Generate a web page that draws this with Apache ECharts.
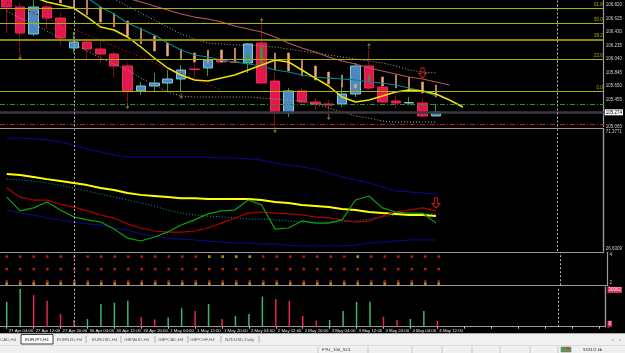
<!DOCTYPE html>
<html>
<head>
<meta charset="utf-8">
<title>EURJPY,H4</title>
<script src="https://cdn.jsdelivr.net/npm/echarts@6/dist/echarts.min.js"></script>
<style>
html, body { margin: 0; padding: 0; background: #000; }
#main { width: 625px; height: 353px; }
</style>
</head>
<body>
<div id="main"></div>
<script>
// H4 bars shown on the chart
const barTimes = [
  "27 Apr 04:00", "27 Apr 08:00", "27 Apr 12:00", "27 Apr 16:00", "27 Apr 20:00",
  "30 Apr 00:00", "30 Apr 04:00", "30 Apr 08:00", "30 Apr 12:00", "30 Apr 16:00", "30 Apr 20:00",
  "1 May 00:00", "1 May 04:00", "1 May 08:00", "1 May 12:00", "1 May 16:00", "1 May 20:00",
  "2 May 00:00", "2 May 04:00", "2 May 08:00", "2 May 12:00", "2 May 16:00", "2 May 20:00",
  "3 May 00:00", "3 May 04:00", "3 May 08:00", "3 May 12:00", "3 May 16:00", "3 May 20:00",
  "4 May 00:00", "4 May 04:00", "4 May 08:00", "4 May 12:00"
];
const futureBars = 12; // empty space right of the last bar (chart shift)

// EURJPY candles
const open = [107.008, 106.791, 106.401, 106.791, 106.632, 106.199, 106.285, 106.184, 106.112, 105.939, 105.578,
  105.650, 105.693, 105.751, 105.895, 105.910, 106.025, 105.997, 105.982, 106.271, 105.722, 105.260, 105.578,
  105.419, 105.390, 105.390, 105.534, 105.939, 105.635, 105.433, 105.404, 105.404, 105.217];
const close = [106.791, 106.415, 106.791, 106.632, 106.343, 106.285, 106.184, 106.112, 105.939, 105.578, 105.650,
  105.693, 105.751, 105.881, 105.890, 106.025, 105.997, 105.989, 106.257, 105.693, 105.260, 105.578, 105.419,
  105.390, 105.375, 105.534, 105.939, 105.621, 105.419, 105.404, 105.411, 105.217, 105.274];
const low = [106.415, 106.126, 106.372, 106.473, 106.242, 106.127, 106.025, 105.982, 105.780, 105.419, 105.520,
  105.563, 105.578, 105.563, 105.780, 105.794, 105.982, 105.982, 105.838, 105.679, 105.072, 105.202, 105.404,
  105.303, 105.260, 105.347, 105.491, 105.592, 105.404, 105.332, 105.375, 105.202, 105.217];
const high = [107.036, 106.849, 106.892, 106.849, 106.704, 106.430, 106.314, 106.314, 106.141, 105.982, 105.708,
  105.838, 105.881, 105.953, 105.997, 106.127, 106.170, 106.199, 106.271, 106.531, 105.852, 105.621, 105.621,
  105.477, 105.448, 105.664, 105.982, 106.170, 105.664, 105.520, 105.491, 105.477, 105.390];

// thin overlay candles
const thinOpen = [null, null, null, null, 107.036, 106.964, 106.921, 106.791, 106.704, 106.589, 106.488, 106.372,
  106.271, 106.184, 106.127, 106.170, 106.170, 106.199, 105.982, 105.982, 106.127, 106.127, 106.025, 105.939,
  105.852, 105.809, 105.679, 105.708, 105.780, 105.809, 105.780, 105.708, 105.664];
const thinClose = [null, null, null, null, 106.849, 106.776, 106.675, 106.574, 106.502, 106.372, 106.257, 106.155,
  106.083, 106.025, 105.997, 105.982, 105.997, 105.997, 106.127, 106.213, 105.881, 105.867, 105.794, 105.737,
  105.679, 105.635, 105.621, 105.809, 105.650, 105.621, 105.578, 105.549, 105.491];

// moving averages / bands on price
const maYellow = [null, null, 106.935, 106.863, 106.820, 106.776, 106.646, 106.502, 106.459, 106.358, 106.213,
  106.054, 105.910, 105.809, 105.737, 105.722, 105.765, 105.809, 105.881, 105.953, 106.025, 105.997, 105.881,
  105.765, 105.650, 105.491, 105.419, 105.448, 105.505, 105.563, 105.592, 105.578, 105.534, 105.448, 105.347];
const maTeal = [null, null, null, null, null, null, 106.921, 106.791, 106.690, 106.560, 106.473, 106.387, 106.271,
  106.170, 106.098, 106.069, 106.025, 105.997, 105.968, 105.939, 105.881, 105.852, 105.809, 105.780, 105.765,
  105.751, 105.737, 105.708, 105.693, 105.664, 105.621, 105.578, 105.505];
const maBrown = [null, null, null, null, null, null, null, null, null, 106.921, 106.863, 106.805, 106.748, 106.690,
  106.646, 106.618, 106.574, 106.516, 106.473, 106.430, 106.358, 106.271, 106.199, 106.141, 106.069, 106.011,
  105.968, 105.910, 105.867, 105.823, 105.780, 105.751, 105.708, 105.664];
const bandUpper = [null, null, null, null, null, null, null, 107.008, 106.906, 106.805, 106.704, 106.603, 106.502,
  106.401, 106.329, 106.271, 106.257, 106.242, 106.242, 106.228, 106.213, 106.184, 106.155, 106.127, 106.098,
  106.069, 106.040, 106.011, 105.982, 105.939, 105.881, 105.852, 105.838];
const bandLower = [106.733, 106.632, 106.545, 106.444, 106.343, 106.257, 106.155, 106.054, 105.968, 105.881,
  105.765, 105.664, 105.563, 105.505, 105.491, 105.491, 105.491, 105.491, 105.491, 105.477, 105.462, 105.448,
  105.433, 105.390, 105.332, 105.274, 105.217, 105.188, 105.144, 105.130, 105.130, 105.130, 105.130];
const trendBars = [0, 16];
const trendPrices = [106.863, 105.592];

// horizontal levels
const fibPrices = [105.577, 106.035, 106.324, 106.550, 106.772];
const fibNames = ["0.0", "23.6", "38.2", "50.0", "61.8"];
const greenLevel = 105.389;
const redLevel = 105.101;
const bidPrice = 105.274;
const separatorBars = [5, 41];

// fractals and signals
const fractalUp = [19, 27];
const fractalDown = [1, 9, 13, 20, 24];
const sellArrowPrice = [[31, 105.838]];

// TDI panel
const tdiUpper = [68.2, 68.2, 67.9, 67.5, 66.8, 65.7, 64.2, 63.1, 62.0, 61.2, 61.2, 61.2, 61.2, 61.2, 61.2, 61.2,
  60.9, 60.9, 60.5, 60.1, 59.0, 58.3, 57.6, 56.8, 55.4, 53.9, 52.8, 51.7, 50.2, 48.7, 48.4, 48.0, 47.6];
const tdiLower = [41.7, 40.6, 39.9, 38.8, 38.0, 37.3, 36.6, 36.2, 35.1, 34.4, 32.9, 32.2, 31.4, 31.0, 30.7, 30.3,
  29.9, 29.6, 29.6, 29.2, 29.2, 28.8, 28.5, 28.5, 28.5, 28.5, 28.8, 29.6, 29.9, 30.3, 30.7, 30.7, 30.7];
const tdiBase = [55.0, 54.6, 53.9, 53.1, 52.4, 51.7, 50.9, 49.8, 49.1, 48.0, 47.3, 46.9, 46.5, 46.1, 46.1, 45.8,
  45.8, 45.8, 45.8, 45.4, 44.7, 44.3, 43.6, 43.2, 42.8, 42.1, 41.7, 41.0, 40.6, 40.3, 39.9, 39.9, 39.5];
const tdiCyan = [53.1, 52.8, 52.4, 51.7, 50.9, 49.8, 48.7, 47.6, 46.5, 45.4, 44.3, 43.2, 41.7, 40.6, 39.9, 39.5,
  39.2, 38.8, 38.4, 38.4, 38.1, 37.7, 37.3, 37.3, 37.3, 37.3, 37.7, 38.4, 39.2, 39.9, 40.3, 40.3, 40.3];
const tdiSignal = [49.8, 46.5, 45.4, 45.4, 43.9, 42.8, 41.4, 39.9, 38.8, 36.6, 35.1, 34.0, 33.6, 33.6, 34.0, 35.1,
  36.9, 38.8, 40.6, 41.0, 40.6, 40.3, 39.9, 39.2, 38.8, 38.1, 37.3, 37.7, 39.5, 41.0, 41.7, 42.5, 41.4];
const tdiRsi = [46.5, 41.4, 42.5, 44.7, 41.7, 39.2, 38.1, 37.3, 34.7, 31.4, 30.3, 31.8, 33.6, 36.2, 38.1, 40.3,
  41.4, 41.7, 45.4, 43.6, 34.7, 35.1, 37.7, 36.9, 36.9, 38.1, 45.4, 46.9, 42.5, 41.0, 40.6, 40.6, 36.9];
const tdiMin = 26.6309;
const tdiMax = 71.3771;
const sellArrowTdi = [[32, 44.3]];

// dots panel: 1 = yellow dot in top row
const dotsTopYellow = [0, 0, 0, 0, 0, 0, 0, 0, 0, 0, 0, 0, 0, 0, 0, 1, 1, 1, 1, 0, 0, 0, 0, 0, 0, 0, 1, 0, 0, 0, 0, 0, 0];
const dotRows = [3.88, 2.97, 2.07, 1.92];

// volume panel
const volume = [12600, 19000, 16000, 13100, 6400, 3400, 3900, 11500, 12100, 13100, 4700, 3700, 4700, 9300, 7900,
  11500, 3900, 5400, 6400, 15200, 14000, 13000, 5400, 3000, 3400, 7900, 12500, 12600, 5000, 3400, 3900, 7900, 2900];
const volumeUp = [1, 1, 0, 0, 0, 0, 1, 1, 1, 1, 0, 0, 1, 1, 0, 1, 0, 1, 1, 1, 0, 0, 0, 0, 1, 1, 1, 1, 0, 0, 1, 1, 0];
const volumeMax = 20062;

const tabs = ["CAD,H4", "EURJPY,H4", "EURNZD,H4", "EURUSD,H4", "GBPAUD,H4", "GBPCAD,H4", "GBPCHF,H4", "NZDUSD,Daily"];

// ---------------------------------------------------------------
const categories = barTimes.concat(Array.from({ length: futureBars }, (_, k) => "next" + (k + 1)));
const FONT = "Liberation Sans";
const n = barTimes.length;

const wickData = open.map((o, i) => [o, close[i], low[i], high[i]]);
const bodyData = open.map((o, i) => [o, close[i], Math.min(o, close[i]), Math.max(o, close[i])]);
const thinData = thinOpen.map((o, i) =>
  o == null ? "-" : [o, thinClose[i], Math.min(o, thinClose[i]), Math.max(o, thinClose[i])]);

const separatorLines = separatorBars.map(b => ({ xAxis: b }));
const sepStyle = { color: "#b8b8b8", width: 1, type: [2, 2] };

function gridAxis(gi) {
  return {
    type: "category", gridIndex: gi, data: categories, boundaryGap: true,
    axisLine: { show: true, lineStyle: { color: "#9a9a9a", width: 1.2 } },
    axisTick: { show: false }, axisLabel: { show: false }, splitLine: { show: false }
  };
}

const xAxes = [gridAxis(0), gridAxis(1), gridAxis(2), gridAxis(3)];
xAxes[0].offset = 1.5;
xAxes[1].offset = 0.8;
xAxes[3].axisTick = { show: true, alignWithLabel: true, interval: 1, length: 2, lineStyle: { color: "#ccc" } };
xAxes[3].axisLabel = {
  show: true, interval: 1, align: "left", margin: 2, padding: [0, 0, 0, 2],
  color: "#e6e6e6", fontSize: 4.3, fontFamily: FONT,
  formatter: (v, idx) => (idx < n ? v : "")
};

const rightAxisBase = {
  position: "right", splitLine: { show: false },
  axisLine: { show: true, lineStyle: { color: "#9a9a9a", width: 1.2 } },
  axisTick: { show: false }
};
const labelBase = { color: "#d0d0d0", fontSize: 4.5, fontFamily: FONT, margin: 2 };

const yAxes = [
  Object.assign({}, rightAxisBase, {
    type: "value", gridIndex: 0, min: 105.065, max: 106.892, interval: 0.195,
    axisLabel: Object.assign({}, labelBase, {
      showMaxLabel: false,
      formatter: v => (Math.abs(v - 105.26) < 0.001 ? "" : v.toFixed(3))
    })
  }),
  Object.assign({}, rightAxisBase, {
    type: "value", gridIndex: 1, min: tdiMin, max: tdiMax, interval: tdiMax - tdiMin,
    axisLabel: Object.assign({}, labelBase, { verticalAlign: "top", formatter: v => (v > 50 ? tdiMax.toFixed(4) : "") })
  }),
  Object.assign({}, rightAxisBase, {
    type: "value", gridIndex: 1, min: tdiMin, max: tdiMax, interval: tdiMax - tdiMin,
    axisLabel: Object.assign({}, labelBase, { verticalAlign: "bottom", formatter: v => (v < 50 ? tdiMin.toFixed(4) : "") })
  }),
  Object.assign({}, rightAxisBase, {
    type: "value", gridIndex: 2, min: 1.8, max: 4.2, interval: 0.2,
    axisLabel: Object.assign({}, labelBase, {
      formatter: v => (Math.abs(v - 4) < 1e-6 ? "4" : Math.abs(v - 2) < 1e-6 ? "2" : "")
    })
  }),
  Object.assign({}, rightAxisBase, {
    type: "value", gridIndex: 3, min: 0, max: volumeMax, interval: volumeMax,
    axisLabel: Object.assign({}, labelBase, {
      verticalAlign: "top", color: "#fff", backgroundColor: "#e0305a", padding: [0.5, 1],
      formatter: v => (v > 0 ? String(volumeMax) : "")
    })
  }),
  Object.assign({}, rightAxisBase, {
    type: "value", gridIndex: 3, min: 0, max: volumeMax, interval: volumeMax,
    axisLabel: Object.assign({}, labelBase, {
      verticalAlign: "bottom", color: "#fff", backgroundColor: "#e0305a", padding: [0.5, 1],
      formatter: v => (v === 0 ? "0" : "")
    })
  })
];

function line(data, color, width, type, xi, yi) {
  return {
    type: "line", data: data, xAxisIndex: xi || 0, yAxisIndex: yi || 0,
    showSymbol: false, symbol: "none", connectNulls: false, silent: true,
    lineStyle: { color: color, width: width, type: type || "solid" }
  };
}

const fibLines = fibPrices.map((p, k) => ({
  yAxis: p,
  lineStyle: { color: fibNames[k] === "38.2" ? "#8c8c00" : "#b0b000", width: fibNames[k] === "38.2" ? 1.8 : 1, type: "solid" },
  label: {
    show: true, position: "insideEndTop", formatter: fibNames[k], distance: 1,
    color: "#b0b000", fontSize: 4.5, fontFamily: FONT
  }
}));

const priceMarkLine = {
  symbol: "none", silent: true, animation: false,
  label: { show: false },
  data: fibLines.concat([
    { yAxis: greenLevel, lineStyle: { color: "#1c9c1c", width: 1, type: [5, 2, 1, 2] } },
    { yAxis: redLevel, lineStyle: { color: "#d01818", width: 1, type: [5, 2, 1, 2] } },
    {
      yAxis: bidPrice, lineStyle: { color: "#3a3a3a", width: 2.5, type: "solid" },
      label: {
        show: true, position: "end", distance: 1, formatter: bidPrice.toFixed(3),
        backgroundColor: "#fff", color: "#000", fontSize: 4.5, fontFamily: FONT, padding: [0.5, 1]
      }
    }
  ]).concat(separatorLines.map(d => Object.assign({ lineStyle: sepStyle }, d)))
};

function sepMarkLine() {
  return { symbol: "none", silent: true, label: { show: false }, lineStyle: sepStyle, data: separatorLines };
}

const upArrow = "path://M2,7 L3,7 L3,3 L5,3 L2.5,0 L0,3 L2,3 Z";
const downArrow = "path://M2,0 L3,0 L3,4 L5,4 L2.5,7 L0,4 L2,4 Z";
const sellArrow = "path://M3,0 L7,0 L7,6 L10,6 L5,11 L0,6 L3,6 Z";

function dotRow(row, colorOf) {
  return {
    type: "scatter", xAxisIndex: 2, yAxisIndex: 3, symbol: "rect", symbolSize: 2.6, silent: true,
    data: barTimes.map((t, i) => ({ value: [i, dotRows[row]], itemStyle: { color: colorOf(i) } }))
  };
}
const dotSeries = [
  dotRow(0, i => (dotsTopYellow[i] ? "#c8c800" : "#d42020")),
  dotRow(1, () => "#d42020"),
  dotRow(3, () => "#c8c800"),
  Object.assign(dotRow(2, () => "#d42020"), { markLine: sepMarkLine() })
];

const series = [
  // price panel
  line(bandLower, "#a8a8a8", 1, [1, 2]),
  line(bandUpper, "#a8a8a8", 1, [1, 2]),
  {
    type: "line", data: trendBars.map((b, k) => [b, trendPrices[k]]), showSymbol: false, silent: true,
    lineStyle: { color: "#8b1010", width: 1, type: [2, 2] }
  },
  line(maBrown, "#b05a55", 1.2),
  line(maTeal, "#008a8a", 1.2),
  {
    type: "candlestick", name: "wick", data: wickData, barWidth: 1, silent: true,
    itemStyle: { color: "#2e9e3e", color0: "#8b0a1a", borderColor: "#2e9e3e", borderColor0: "#8b0a1a", borderWidth: 1 }
  },
  {
    type: "candlestick", name: "body", data: bodyData, barWidth: 10, silent: true,
    itemStyle: { color: "#4b88c4", color0: "#e2184c", borderColor: "#78cbd8", borderColor0: "#f02855", borderWidth: 1 },
    markLine: priceMarkLine
  },
  {
    type: "candlestick", name: "thin", data: thinData, barWidth: 2, silent: true,
    itemStyle: { color: "#22a52a", color0: "#f0a878", borderColor: "#22a52a", borderColor0: "#e09868", borderWidth: 0.6 }
  },
  line(maYellow, "#f2e400", 1.5),
  {
    type: "scatter", data: fractalUp.map(i => [i, high[i]]), symbol: upArrow, symbolSize: [4, 6],
    symbolOffset: [0, -4], itemStyle: { color: "#c8843c" }, silent: true
  },
  {
    type: "scatter", data: fractalDown.map(i => [i, low[i]]), symbol: downArrow, symbolSize: [4, 6],
    symbolOffset: [0, 4], itemStyle: { color: "#c8843c" }, silent: true
  },
  {
    type: "scatter", data: sellArrowPrice, symbol: sellArrow, symbolSize: [8, 10], silent: true,
    itemStyle: { color: "rgba(0,0,0,0)", borderColor: "#ff2020", borderWidth: 1 }
  },

  // TDI panel
  Object.assign(line(tdiUpper, "#0a0a9a", 1, "solid", 1, 1), { markLine: sepMarkLine() }),
  line(tdiLower, "#0a0a9a", 1, "solid", 1, 1),
  line(tdiCyan, "#00a0a8", 1, [1, 2], 1, 1),
  line(tdiBase, "#ffff00", 2, "solid", 1, 1),
  line(tdiSignal, "#b00000", 1.2, "solid", 1, 1),
  line(tdiRsi, "#10a010", 1.2, "solid", 1, 1),
  {
    type: "scatter", xAxisIndex: 1, yAxisIndex: 1, data: sellArrowTdi, symbol: sellArrow, symbolSize: [8, 10],
    silent: true, itemStyle: { color: "rgba(0,0,0,0)", borderColor: "#ff2020", borderWidth: 1 }
  }
].concat(dotSeries).concat([
  // volume panel
  {
    type: "bar", xAxisIndex: 3, yAxisIndex: 4, barWidth: 1.5, silent: true,
    data: volume.map((v, i) => ({ value: v, itemStyle: { color: volumeUp[i] ? "#3cb86a" : "#e8234f" } })),
    markLine: sepMarkLine()
  }
]);

// terminal tabs and status bar
const tabX = [0, 25, 57, 92, 124, 158, 190, 225];
const tabSepX = [86, 121, 155, 188, 221, 259];
const statusSepX = [318, 368, 412, 442, 472, 500, 530, 558];
const uiText = { fontSize: 4.4, fontFamily: FONT, verticalAlign: "middle", fill: "#505050" };
const graphic = [
  { type: "rect", shape: { x: 0, y: 333, width: 625, height: 20 }, style: { fill: "#f0f0f0" } },
  { type: "line", shape: { x1: 0, y1: 333.5, x2: 625, y2: 333.5 }, style: { stroke: "#a8a8a8", lineWidth: 1 } },
  { type: "rect", shape: { x: 21, y: 334.5, width: 32, height: 9.5 }, style: { fill: "#fff", stroke: "#404040", lineWidth: 1 } },
  { type: "line", shape: { x1: 0, y1: 345.5, x2: 625, y2: 345.5 }, style: { stroke: "#dcdcdc", lineWidth: 1 } }
];
tabs.forEach((t, k) => {
  graphic.push({ type: "text", style: Object.assign({}, uiText, { text: t, x: tabX[k], y: 339.5, fill: k === 1 ? "#202020" : "#606060" }) });
});
tabSepX.forEach(x => graphic.push({ type: "line", shape: { x1: x, y1: 336, x2: x, y2: 343 }, style: { stroke: "#b0b0b0", lineWidth: 1 } }));
statusSepX.forEach(x => graphic.push({ type: "line", shape: { x1: x, y1: 346.5, x2: x, y2: 353 }, style: { stroke: "#c8c8c8", lineWidth: 1 } }));
graphic.push({ type: "text", style: Object.assign({}, uiText, { text: "FTU_100_SCL", x: 322, y: 349.5, fill: "#303030" }) });
graphic.push({ type: "text", style: Object.assign({}, uiText, { text: "5531/2 kb", x: 583, y: 349.5, fill: "#303030" }) });
graphic.push({ type: "text", style: Object.assign({}, uiText, { text: "\u2039", x: 612, y: 339.5, fill: "#707070", fontSize: 5 }) });
graphic.push({ type: "text", style: Object.assign({}, uiText, { text: "\u203a", x: 619, y: 339.5, fill: "#707070", fontSize: 5 }) });
graphic.push({ type: "rect", shape: { x: 561, y: 347, width: 10, height: 5 }, style: { fill: "#5a9a5a", stroke: "#707070", lineWidth: 0.5 } });
graphic.push({ type: "rect", shape: { x: 566, y: 347.5, width: 4, height: 2 }, style: { fill: "#d04040" } });

const chart = echarts.init(document.getElementById("main"), null, { renderer: "canvas" });
chart.setOption({
  backgroundColor: "#000",
  animation: false,
  grid: [
    { left: 0, width: 607.5, top: 0, height: 126.5 },
    { left: 0, width: 607.5, top: 129.5, height: 121.5 },
    { left: 0, width: 607.5, top: 252.25, height: 33 },
    { left: 0, width: 607.5, top: 287, height: 39.7 }
  ],
  xAxis: xAxes,
  yAxis: yAxes,
  series: series,
  graphic: graphic
});
</script>
</body>
</html>
